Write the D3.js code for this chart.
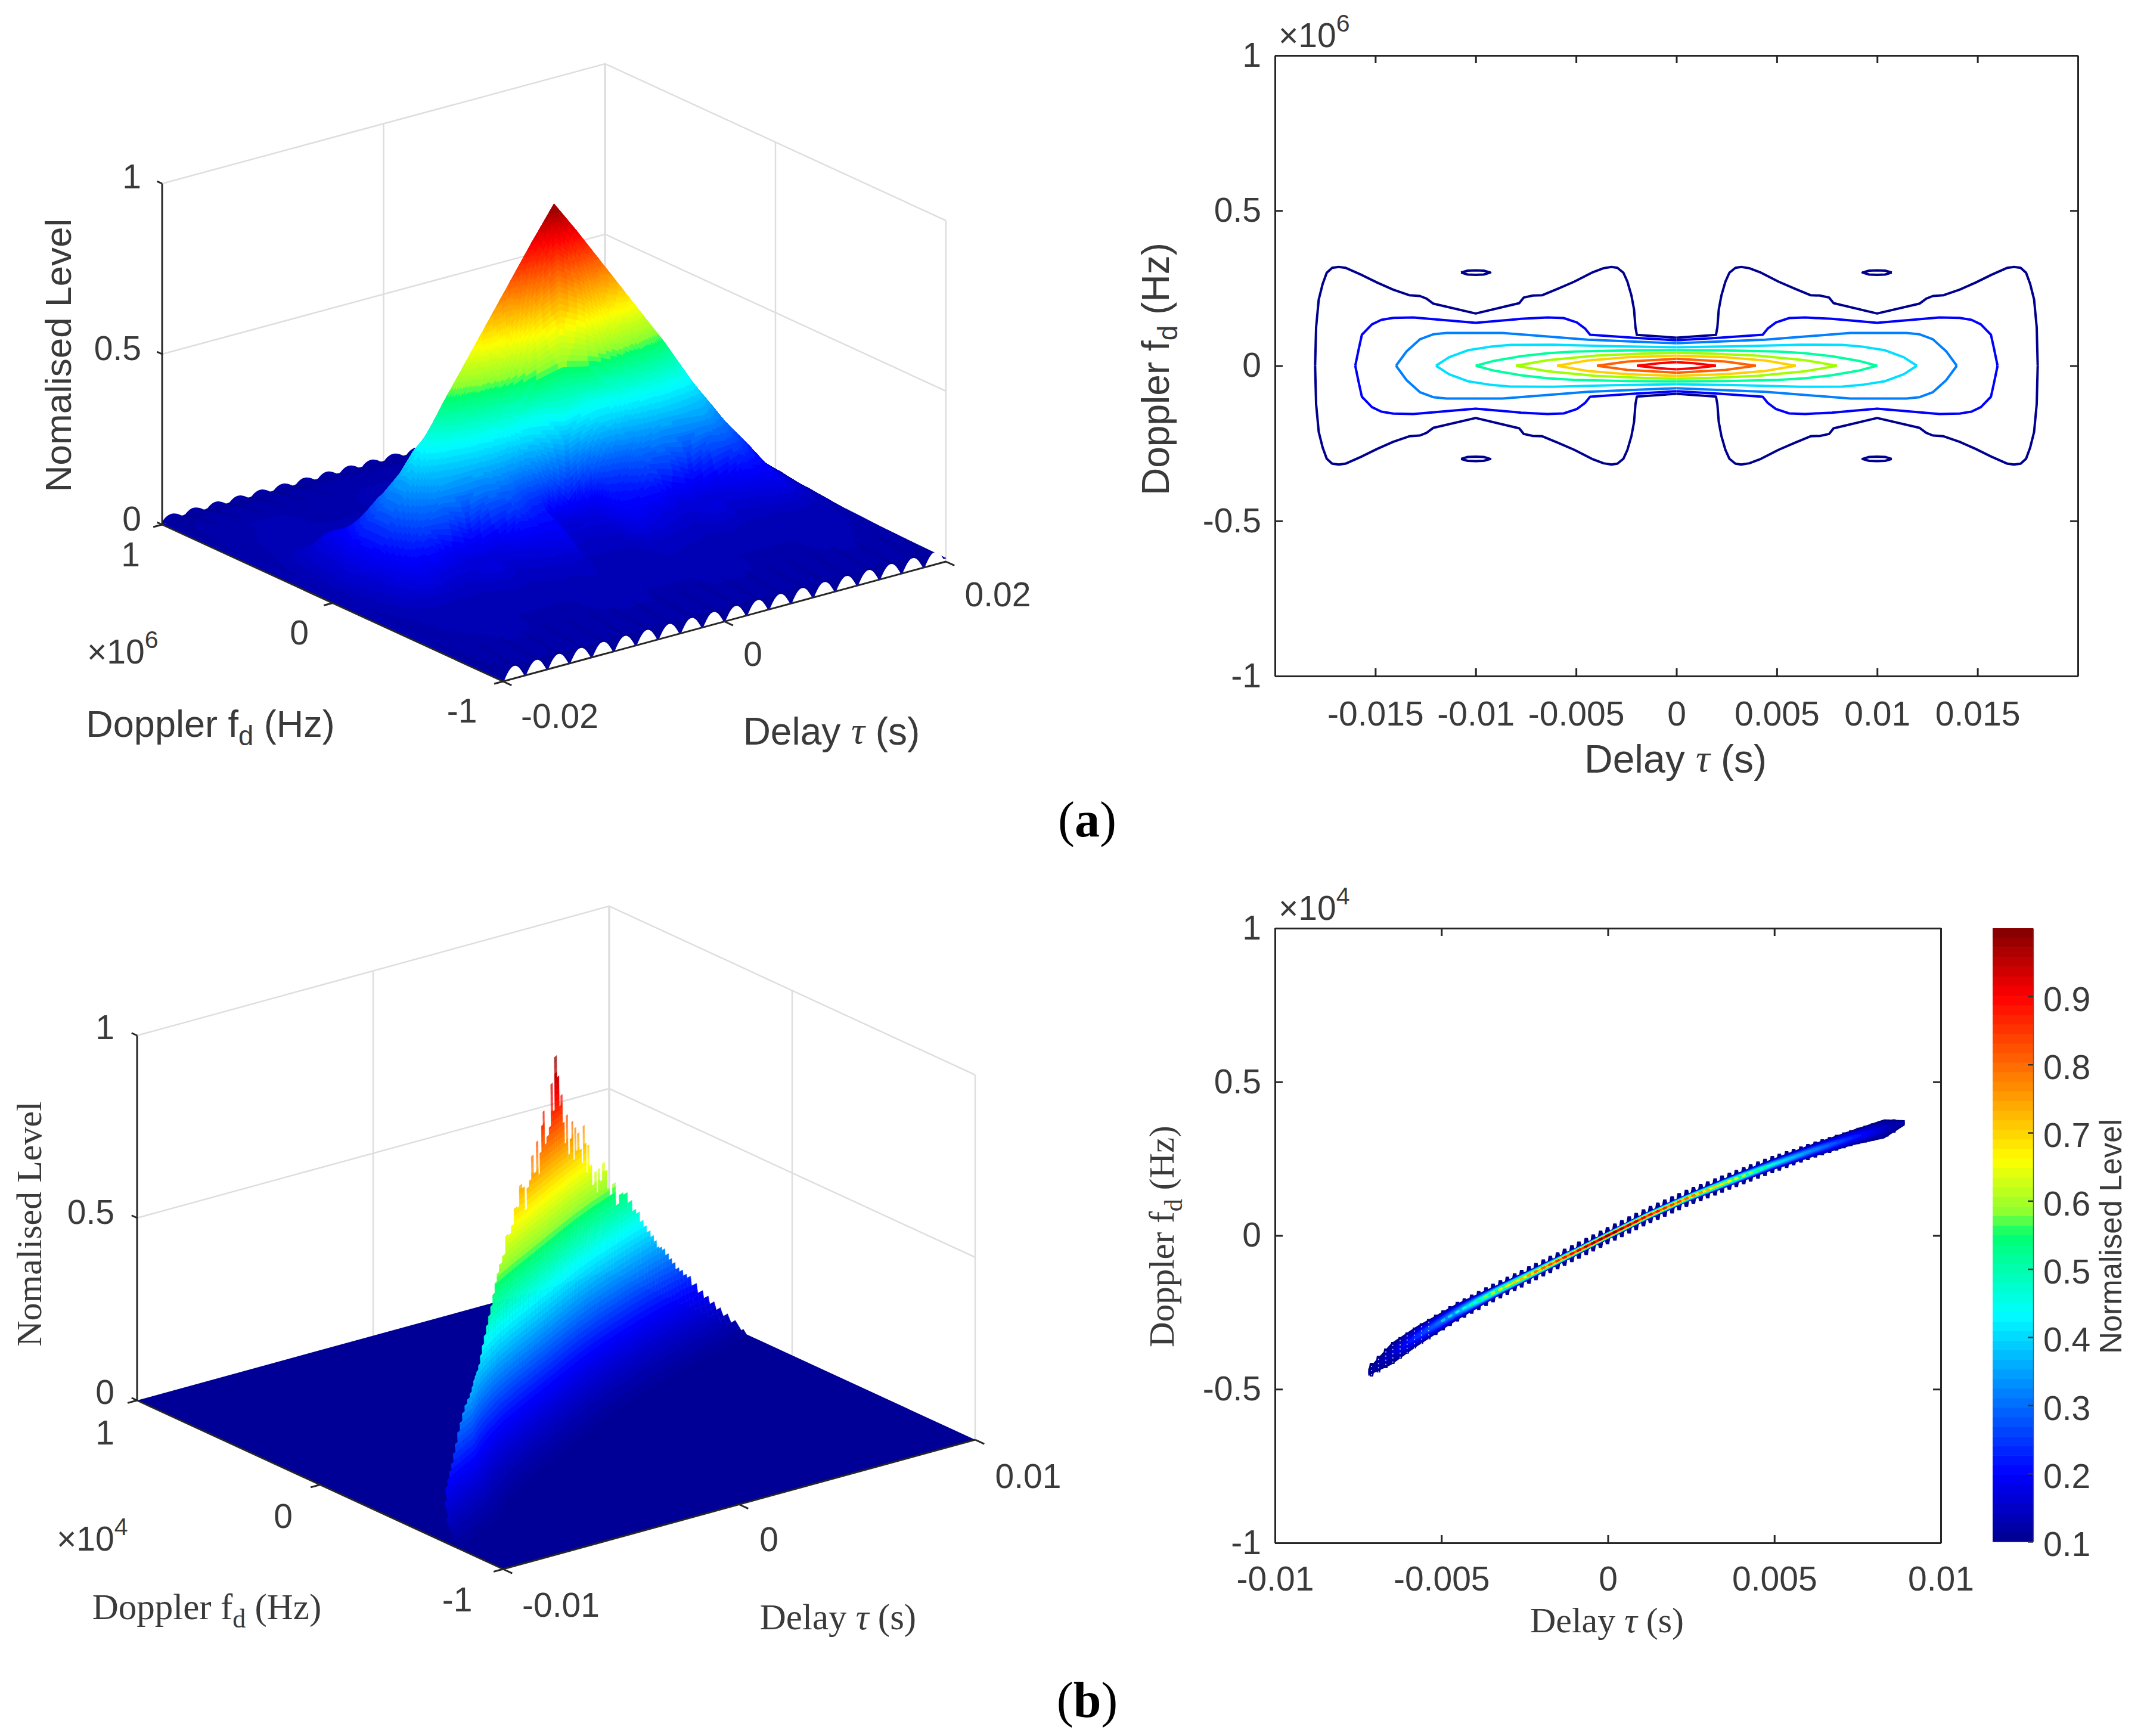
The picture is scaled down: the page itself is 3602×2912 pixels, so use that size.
<!DOCTYPE html>
<html>
<head>
<meta charset="utf-8">
<script src="https://cdn.jsdelivr.net/npm/d3@7"></script>
<style>
  body { margin: 0; background: #fff; }
  text { font-family: "Liberation Sans", Arial, sans-serif; fill: #3a3a3a; }
</style>
</head>
<body>
<svg id="fig" width="3602" height="2912" viewBox="0 0 3602 2912"></svg>
<script>
// ---- values ----

// (a) surface: quadrant of the ambiguity surface, |delay| in ms, |doppler| in 1e6 Hz
const surfDelayA = [0, 2, 3, 4, 6, 8, 10, 12, 14, 16, 18, 20];
const surfDopplerA = [0, .01, .02, .03, .04, .05, .06, .07, .08, .09, .1, .12, .15, .2, .25, .3, .35, .4, .5, .6, .8, 1];
const surfLevelA = [
  [.995, .90, .85, .80, .70, .60, .50, .39, .28, .18, .095, .04],
  [.913, .84, .81, .75, .65, .57, .485, .385, .28, .18, .095, .04],
  [.822, .77, .735, .70, .60, .54, .465, .38, .28, .18, .095, .04],
  [.727, .69, .655, .62, .55, .51, .445, .375, .28, .18, .095, .04],
  [.618, .59, .57, .55, .51, .48, .43, .37, .275, .18, .09, .04],
  [.507, .495, .49, .48, .47, .45, .41, .36, .27, .18, .09, .038],
  [.397, .41, .41, .41, .43, .42, .385, .345, .265, .18, .09, .038],
  [.318, .34, .35, .35, .39, .39, .365, .33, .26, .18, .09, .036],
  [.222, .27, .295, .30, .35, .365, .345, .32, .255, .175, .085, .036],
  [.104, .20, .225, .25, .315, .34, .325, .31, .25, .175, .085, .035],
  [.08, .10, .195, .195, .285, .31, .31, .30, .24, .17, .085, .035],
  [.07, .09, .175, .18, .25, .26, .255, .26, .23, .16, .08, .033],
  [.08, .085, .155, .16, .21, .20, .16, .20, .205, .15, .08, .031],
  [.06, .07, .14, .14, .15, .095, .09, .10, .15, .135, .075, .03],
  [.06, .06, .125, .125, .095, .08, .08, .08, .095, .12, .07, .027],
  [.05, .05, .105, .10, .08, .06, .10, .06, .07, .10, .06, .025],
  [.04, .04, .07, .07, .06, .05, .07, .05, .05, .06, .05, .022],
  [.04, .04, .05, .05, .05, .045, .05, .04, .04, .04, .04, .02],
  [.04, .04, .045, .045, .04, .035, .035, .035, .04, .04, .035, .018],
  [.035, .035, .04, .04, .035, .03, .03, .03, .035, .035, .03, .015],
  [.025, .025, .03, .03, .03, .03, .03, .03, .03, .03, .025, .012],
  [.01, .01, .01, .01, .01, .01, .01, .01, .01, .01, .01, .01]
];
// edge ripples of the surface (ms)
const scallopDelay = [-19, -17, -15, -13, -11, -9, -7, -5, -3, -1, 1, 3, 5, 7, 9, 11, 13, 15, 17, 19];

// (a) contours: one quadrant each, [delay ms, doppler 1e6 Hz], mirrored on both axes
const contourColors = ["#00008f", "#0000ff", "#007fff", "#00dfff", "#00ff9f", "#9fff00", "#ffcf00", "#ff6000", "#ff0000"];
const contourLines = [
  [[0, .0903], [-1.97, .0993], [-2.04, .1236], [-2.11, .1812], [-2.24, .2261], [-2.44, .2709], [-2.64, .2997], [-2.94, .3157], [-3.23, .3183], [-3.63, .3144], [-4.16, .3016], [-5.09, .2709], [-5.89, .2485], [-6.68, .2273], [-7.15, .2261], [-7.61, .2197], [-7.83, .2017], [-10, .1684], [-12.12, .2004], [-12.45, .2165], [-12.78, .2248], [-13.31, .2273], [-14.11, .2453], [-14.9, .2677], [-15.7, .2933], [-16.49, .3157], [-16.82, .3183], [-17.15, .3157], [-17.42, .2997], [-17.62, .2645], [-17.82, .2133], [-17.95, .1236], [-18, 0]],
  [[0, .082], [-2.17, .0903], [-4.3, .0999], [-4.56, .1204], [-4.96, .1396], [-5.62, .1537], [-6.42, .1556], [-7.74, .1511], [-10, .1383], [-13.11, .1556], [-14.11, .1543], [-14.7, .1479], [-15.17, .1332], [-15.67, .0999], [-15.83, .0532], [-16, 0]],
  [[0, .0724], [-4.43, .0839], [-8.67, .1057], [-11.45, .1057], [-12.12, .1012], [-12.78, .0852], [-13.44, .0467], [-13.97, 0]],
  [[0, .0596], [-3.23, .0628], [-6.15, .0679], [-8.27, .0672], [-9.33, .0608], [-10.39, .0499], [-11.32, .0275], [-11.98, 0]],
  [[0, .0506], [-2.44, .0493], [-5.09, .0455], [-6.42, .0403], [-7.74, .0307], [-9.07, .016], [-10, 0]],
  [[0, .0416], [-1.78, .039], [-4.03, .0327], [-6.42, .0179], [-8, 0]],
  [[0, .0327], [-2.44, .0275], [-4.43, .0167], [-5.95, 0]],
  [[0, .0224], [-2.44, .0134], [-3.96, 0]],
  [[0, .0115], [-.85, .0083], [-1.97, 0]]
];
// small closed 0.1 islands near delay -10 ms, doppler 0.3
const islandLine = [[-10.73, .3004], [-10.4, .3065], [-10, .3075], [-9.6, .3065], [-9.27, .3004], [-9.6, .294], [-10, .293], [-10.4, .294], [-10.73, .3004]];

// (b) crest of the noisy ridge, read stripe by stripe: delay in ms, level
const crestDelayB = [-10, -9.8, -9.6, -9.4, -9.2, -9, -8.8, -8.6, -8.4, -8.2, -8, -7.8, -7.6, -7.4, -7.2, -7, -6.8, -6.6, -6.4, -6.2, -6, -5.8, -5.6, -5.4, -5.2, -5, -4.8, -4.6, -4.42, -4.25, -3.93, -3.77, -3.53, -3.29, -3.08, -2.88, -2.69, -2.48, -2.32, -2.16, -1.95, -1.84, -1.63, -1.43, -1.35, -1.19, -1.08, -.95, -.87, -.66, -.5, -.35, -.22, -.06, .14, .23, .35, .47, .6, .71, .85, 1, 1.1, 1.2, 1.31, 1.4, 1.49, 1.64, 1.78, 1.86, 1.99, 2.07, 2.15, 2.3, 2.48, 2.63, 2.73, 2.81, 2.97, 3.12, 3.29, 3.41, 3.56, 3.78, 3.96, 4.21, 4.46, 4.74, 5.01, 5.2, 5.44, 5.62, 5.81, 6.06, 6.2, 6.37, 6.5, 6.67, 6.85, 7.04, 7.2, 7.41, 7.6, 7.8, 7.96, 8.2, 8.5, 8.75, 9, 9.25, 9.5, 9.75, 10];
const crestLevelB = [.02, .06, .095, .125, .14, .155, .17, .19, .21, .235, .255, .275, .29, .30, .31, .32, .33, .335, .34, .35, .37, .39, .41, .43, .45, .47, .495, .52, .54, .559, .575, .622, .618, .636, .676, .672, .727, .714, .649, .704, .719, .781, .729, .809, .716, .771, .841, .876, .783, .80, .82, .933, .855, .998, .938, .855, .881, .802, .742, .815, .704, .743, .786, .678, .763, .698, .743, .694, .654, .752, .701, .618, .691, .632, .574, .606, .546, .608, .572, .616, .59, .538, .516, .542, .479, .502, .495, .466, .436, .423, .395, .375, .356, .338, .32, .30, .295, .286, .268, .25, .235, .216, .205, .19, .18, .155, .13, .11, .09, .07, .05, .03, .01];
// how far the near flank has moved off the ridge at a given level (doppler 1e4 Hz)
const flankLevelB = [0, .03, .06, .1, .15, .2, .3, .5, 1];
const flankOffsetB = [.16, .11, .08, .055, .04, .028, .02, .012, 0];

// (b) contour ridge: centre line, peak level, half width at level 0.1, tooth half height
const ridgeDelay = [-10, -7.2, -6.5, -5.78, -4.55, -3.31, -2.08, -.84, 0, 1.21, 2.45, 3.68, 4.92, 6.15, 7.39, 8.3, 8.95, 10];
const ridgeDoppler = [-.6, -.445, -.385, -.331, -.2495, -.179, -.113, -.046, 0, .065, .125, .178, .23, .277, .32, .347, .368, .41];
const ridgeLevel = [.12, .12, .16, .25, .36, .58, .74, .87, .97, .85, .74, .6, .44, .34, .24, .16, .12, .12];
const ridgeHalfWidth = [.01, .01, .034, .032, .026, .018, .014, .012, .012, .012, .012, .015, .017, .02, .024, .03, .006, .006];
const ridgeToothHalf = [.02, .02, .036, .034, .032, .03, .028, .028, .028, .028, .028, .028, .028, .026, .026, .03, .012, .012];
const toothDelay = [-7.10, -6.89, -6.67, -6.46, -6.24, -6.03, -5.81, -5.60, -5.38, -5.17, -4.95, -4.74, -4.52, -4.31, -4.09, -3.88, -3.66, -3.45, -3.23, -3.02, -2.80, -2.59, -2.37, -2.16, -1.94, -1.73, -1.51, -1.30, -1.08, -.87, -.65, -.44, -.22, -.01, .21, .42, .64, .85, 1.07, 1.28, 1.50, 1.71, 1.93, 2.14, 2.36, 2.57, 2.79, 3.00, 3.22, 3.43, 3.65, 3.86, 4.08, 4.29, 4.51, 4.72, 4.94, 5.15, 5.37, 5.58, 5.80, 6.01, 6.23, 6.44, 6.66, 6.87, 7.09, 7.30, 7.52, 7.73, 7.95, 8.16, 8.38, 8.59];

// tick labels
const delayTicksA = [-.015, -.01, -.005, 0, .005, .01, .015];
const delayTicksB = [-.01, -.005, 0, .005, .01];
const dopplerTicks = [-1, -.5, 0, .5, 1];
const colorbarTicks = [.1, .2, .3, .4, .5, .6, .7, .8, .9];

// ---- colours ----
const jetRange = ["#00008f", "#0000ff", "#00ffff", "#00ff70", "#90ff30", "#ffff00", "#ff0000", "#800000"];
const surfColor = d3.scaleLinear([-.02, .13, .38, .50, .53, .63, .88, 1], jetRange).clamp(true);
const barColor = d3.scaleLinear([.1, .2, .435, .55, .585, .66, .9, 1], jetRange).clamp(true);
const quant = z => Math.floor(z * 64) / 64;

const svg = d3.select("#fig");
const tickFont = 57;

// ---- helpers ----
function makeProjection(box) {
  const u = d3.scaleLinear(box.delayDomain, [0, 1]);
  const v = d3.scaleLinear([-1, 1], [0, 1]);
  const h = d3.scaleLinear([0, 1], [0, box.height]);
  return (t, f, z) => [
    box.front[0] + u(t) * (box.right[0] - box.front[0]) + v(f) * (box.left[0] - box.front[0]),
    box.front[1] + u(t) * (box.right[1] - box.front[1]) + v(f) * (box.left[1] - box.front[1]) - h(z)
  ];
}

function addLabel(g, x, y, cfg) {
  const t = g.append("text").attr("x", x).attr("y", y)
    .attr("text-anchor", cfg.anchor || "middle")
    .attr("font-size", cfg.size)
    .attr("dominant-baseline", "middle");
  if (cfg.rotate) t.attr("transform", `rotate(${cfg.rotate} ${x} ${y})`);
  if (cfg.serif) t.style("font-family", '"Liberation Serif", serif');
  cfg.parts.forEach(p => {
    const s = t.append("tspan").text(p.text);
    if (p.sub) s.attr("dy", cfg.size * .3).attr("font-size", cfg.size * .72);
    if (p.sup) s.attr("dy", -cfg.size * .38).attr("font-size", cfg.size * .72);
    if (p.back) s.attr("dy", -cfg.size * .3);
    if (p.tau) s.style("font-family", '"Liberation Serif", serif').style("font-style", "italic");
  });
  return t;
}
const dopplerParts = [{text: "Doppler f"}, {text: "d", sub: true}, {text: " (Hz)", back: true}];
const delayParts = [{text: "Delay "}, {text: "τ", tau: true}, {text: " (s)"}];
const powerParts = e => [{text: "×10"}, {text: e, sup: true}];

// back walls of a 3-D box
function drawBox(g, P, box) {
  const [tLo, tHi] = box.delayDomain;
  const grid = g.append("g").attr("fill", "none").attr("stroke", "#dedede").attr("stroke-width", 2.5);
  const line = d3.line();
  [.5, 1].forEach(z => grid.append("path").attr("d", line([P(tLo, 1, z), P(tHi, 1, z), P(tHi, -1, z)])));
  grid.append("path").attr("d", line([P(tHi, 1, 0), P(tHi, 1, 1)])).attr("stroke-width", 3.5);
  grid.append("path").attr("d", line([P(0, 1, 0), P(0, 1, 1)]));
  grid.append("path").attr("d", line([P(tHi, 0, 0), P(tHi, 0, 1)]));
  grid.append("path").attr("d", line([P(tHi, -1, 0), P(tHi, -1, 1)]));
}

// front axes and their tick marks
function drawBoxFront(g, P, box) {
  const [tLo, tHi] = box.delayDomain;
  const line = d3.line();
  const ax = g.append("g").attr("fill", "none").attr("stroke", "#262626").attr("stroke-width", 3);
  ax.append("path").attr("d", line([P(tLo, 1, 0), P(tLo, 1, 1)]));
  ax.append("path").attr("d", line([P(tLo, 1, 0), P(tLo, -1, 0)]));
  ax.append("path").attr("d", line([P(tLo, -1, 0), P(tHi, -1, 0)]));
  const dt = (tHi - tLo) * .02, df = .05;
  [0, .5, 1].forEach(z => ax.append("path").attr("d", line([P(tLo, 1, z), P(tLo, 1 + df * .6, z)])));
  [-1, 0, 1].forEach(f => ax.append("path").attr("d", line([P(tLo, f, 0), P(tLo - dt, f, 0)])));
  [tLo, 0, tHi].forEach(t => ax.append("path").attr("d", line([P(t, -1, 0), P(t, -1 - df, 0)])));
}

// ---- (a) left: surface ----
const boxA = {delayDomain: [-.02, .02], front: [844, 1143], right: [1587, 942], left: [272, 880], height: 572};
const PA = makeProjection(boxA);
const gA = svg.append("g");
drawBox(gA, PA, boxA);

// ripples that stand proud of the far edge
const bumpLine = d3.line().curve(d3.curveBasis);
const bumpsBack = gA.append("g").attr("fill", surfColor(.01));
scallopDelay.forEach(d => {
  const pts = [[-1.05, 0], [-.95, .012], [-.6, .021], [-.2, .026], [.3, .022], [1, .006], [1, 0]]
    .map(([dd, z]) => PA((d + dd) / 1000, 1, z));
  bumpsBack.append("path").attr("d", bumpLine(pts) + "Z");
});

gA.append("path")
  .attr("d", d3.line()([PA(-.02, 1, 0), PA(-.02, -1, 0), PA(.02, -1, 0), PA(.02, 1, 0)]) + "Z")
  .attr("fill", surfColor(.025));

function shadeGrid(g, nRows, nCols, corner) {
  // far to near, run-merged so that the painter's order still holds
  let cur = null, buf = "";
  const flush = () => {
    if (buf) g.append("path").attr("d", buf).attr("fill", cur).attr("stroke", cur).attr("stroke-width", .9);
    buf = "";
  };
  for (let r = 0; r < nRows; r++) {
    for (let c = 0; c < nCols; c++) {
      const q = corner(r, c);
      const col = surfColor(quant(q.z));
      if (col !== cur) { flush(); cur = col; }
      buf += "M" + q.pts.map(p => p[0].toFixed(1) + "," + p[1].toFixed(1)).join("L") + "Z";
    }
  }
  flush();
}

const signedDelay = [...surfDelayA.slice(1).reverse().map(d => -d), ...surfDelayA].reverse(); // +20 .. -20
const signedDoppler = [...surfDopplerA.slice(1).reverse().map(d => -d), ...surfDopplerA].reverse(); // +1 .. -1
const subT = 10, subF = 6;
const levelAt = (iF, iT) => surfLevelA[surfDopplerA.indexOf(Math.abs(signedDoppler[iF]))][surfDelayA.indexOf(Math.abs(signedDelay[iT]))];
// corner lookup with shading-interp style subdivision of each table cell
function meshCorner(ri, ci) {
  const iF = Math.min(Math.floor(ri), signedDoppler.length - 2), iT = Math.min(Math.floor(ci), signedDelay.length - 2);
  const a = ri - iF, b = ci - iT;
  const z = d3.interpolate(
    d3.interpolate(levelAt(iF, iT), levelAt(iF, iT + 1))(b),
    d3.interpolate(levelAt(iF + 1, iT), levelAt(iF + 1, iT + 1))(b))(a);
  const t = d3.interpolate(signedDelay[iT], signedDelay[iT + 1])(b) / 1000;
  const f = d3.interpolate(signedDoppler[iF], signedDoppler[iF + 1])(a);
  return {z, p: PA(t, f, z)};
}
const gMesh = gA.append("g");
shadeGrid(gMesh, (signedDoppler.length - 1) * subF, (signedDelay.length - 1) * subT, (r, c) => {
  const q = [[r, c], [r, c + 1], [r + 1, c + 1], [r + 1, c]].map(([a, b]) => meshCorner(a / subF, b / subT));
  return {z: d3.mean(q, d => d.z), pts: q.map(d => d.p)};
});

// faint streaks running in from the edge ripples
const streaks = gA.append("g").attr("stroke", "#000068").attr("stroke-width", 3).attr("stroke-opacity", .28);
scallopDelay.forEach(d => {
  [[-1, -.72], [1, .8]].forEach(([f0, f1]) => {
    const a = PA((d + 1) / 1000, f0, .012), b = PA((d + 1) / 1000, f1, .03);
    if (d < 19 && (f0 < 0 || d < -7)) streaks.append("line").attr("x1", a[0]).attr("y1", a[1]).attr("x2", b[0]).attr("y2", b[1]);
  });
});

// white gaps under the near edge ripples
const bumpsFront = gA.append("g").attr("fill", "#fff");
scallopDelay.forEach(d => {
  const pts = [[-.9, 0], [-.9, .002], [-.55, .024], [-.2, .037], [.2, .037], [.55, .024], [.9, .002], [.9, 0]]
    .map(([dd, z]) => PA((d + dd) / 1000, -1, z));
  bumpsFront.append("path").attr("d", bumpLine(pts) + "Z");
});
drawBoxFront(gA, PA, boxA);

const tA = svg.append("g");
[["1", 237, 301], ["0.5", 237, 589], ["0", 237, 875], ["1", 235, 935]].forEach(([s, x, y]) =>
  addLabel(tA, x, y, {size: tickFont, anchor: "end", parts: [{text: s}]}));
addLabel(tA, 502, 1066, {size: tickFont, parts: [{text: "0"}]});
addLabel(tA, 775, 1197, {size: tickFont, parts: [{text: "-1"}]});
addLabel(tA, 939, 1206, {size: tickFont, parts: [{text: "-0.02"}]});
addLabel(tA, 1263, 1102, {size: tickFont, parts: [{text: "0"}]});
addLabel(tA, 1674, 1002, {size: tickFont, parts: [{text: "0.02"}]});
addLabel(tA, 146, 1098, {size: tickFont, anchor: "start", parts: powerParts("6")});
addLabel(tA, 103, 596, {size: 62, rotate: -90, parts: [{text: "Nomalised Level"}]});
addLabel(tA, 353, 1219, {size: 63, parts: dopplerParts});
addLabel(tA, 1395, 1232, {size: 64, parts: delayParts});

// ---- 2-D axes shared by the right-hand panels ----
function drawAxes(g, x, y, xTicks, padX) {
  const [x0, x1] = x.range(), [y1, y0] = y.range();
  const fmt = d => String(d);
  const call = (gen, tx, ty) => g.append("g").attr("transform", `translate(${tx},${ty})`).call(gen);
  const styleAxis = a => {
    a.selectAll("path.domain").attr("stroke", "#262626").attr("stroke-width", 3);
    a.selectAll(".tick line").attr("stroke", "#262626").attr("stroke-width", 3);
    a.selectAll("text").attr("font-size", tickFont).attr("fill", "#3a3a3a")
      .style("font-family", '"Liberation Sans", sans-serif');
  };
  styleAxis(call(d3.axisBottom(x).tickValues(xTicks).tickFormat(fmt).tickSize(-13).tickSizeOuter(0).tickPadding(padX), 0, y1));
  styleAxis(call(d3.axisLeft(y).tickValues(dopplerTicks).tickFormat(fmt).tickSize(-13).tickSizeOuter(0).tickPadding(23), x0, 0));
  styleAxis(call(d3.axisTop(x).tickValues(xTicks).tickFormat("").tickSize(-13).tickSizeOuter(0), 0, y0));
  styleAxis(call(d3.axisRight(y).tickValues(dopplerTicks).tickFormat("").tickSize(-13).tickSizeOuter(0), x1, 0));
}

// ---- (a) right: contours ----
const xA = d3.scaleLinear([-.02, .02], [2139, 3486]);
const yA = d3.scaleLinear([-1, 1], [1134, 93]);
const gC = svg.append("g");
const contourPath = d3.line().x(d => xA(d[0] / 1000)).y(d => yA(d[1]));
const mirrors = [[1, 1], [1, -1], [-1, 1], [-1, -1]];
const cLines = gC.append("g").attr("fill", "none").attr("stroke-width", 4).attr("stroke-linejoin", "round");
contourLines.forEach((pts, i) => {
  mirrors.forEach(([mx, my]) => {
    cLines.append("path")
      .attr("d", contourPath(pts.map(p => [p[0] * mx, p[1] * my])))
      .attr("stroke", contourColors[i]);
  });
});
mirrors.forEach(([mx, my]) => {
  cLines.append("path").attr("d", contourPath(islandLine.map(p => [p[0] * mx, p[1] * my]))).attr("stroke", contourColors[0]);
});
drawAxes(gC, xA, yA, delayTicksA, 43);
addLabel(gC, 2145, 64, {size: tickFont, anchor: "start", parts: powerParts("6")});
addLabel(gC, 1944, 619, {size: 64, rotate: -90, parts: dopplerParts});
addLabel(gC, 2811, 1279, {size: 66, parts: delayParts});

// ---- (b) left: noisy ridge ----
const boxB = {delayDomain: [-.01, .01], front: [844, 2632], right: [1636, 2415], left: [230, 2349], height: 612};
const PB = makeProjection(boxB);
const gB = svg.append("g");
drawBox(gB, PB, boxB);
gB.append("path")
  .attr("d", d3.line()([PB(-.01, 1, 0), PB(-.01, -1, 0), PB(.01, -1, 0), PB(.01, 1, 0)]) + "Z")
  .attr("fill", surfColor(-.01));

const ridgeFd = d3.scaleLinear(ridgeDelay, ridgeDoppler);
const flankOff = d3.scaleLinear(flankLevelB, flankOffsetB).clamp(true);
const gWall = gB.append("g");
const mid = (a, b) => (a + b) / 2;
const band = 1 / 64;
d3.range(crestDelayB.length - 1, -1, -1).forEach(i => {
  const t0 = i > 0 ? mid(crestDelayB[i - 1], crestDelayB[i]) : crestDelayB[i];
  const t1 = i < crestDelayB.length - 1 ? mid(crestDelayB[i], crestDelayB[i + 1]) : crestDelayB[i];
  const crest = crestLevelB[i];
  const neighbour = Math.max(i > 0 ? crestLevelB[i - 1] : 0, i < crestDelayB.length - 1 ? crestLevelB[i + 1] : 0);
  const spikeFrom = Math.min(crest, neighbour);
  const lev0 = Math.floor(crest / band);
  for (let k = lev0; k >= 0; k--) {
    // same level sits at the same offset in every stripe, so the colour bands line up
    const top = Math.min(crest, (k + 1) * band), bot = k * band;
    const at = (ms, z) => PB(ms / 1000, ridgeFd(ms) - flankOff(z), z);
    const pts = [at(t0, top), at(t1, top), at(t1, bot), at(t0, bot)];
    const col = surfColor(bot);
    gWall.append("path").attr("d", d3.line()(pts) + "Z").attr("fill", col).attr("stroke", col).attr("stroke-width", .6)
      .attr("opacity", bot > spikeFrom ? .75 : 1);
  }
});
drawBoxFront(gB, PB, boxB);

const tB = svg.append("g");
addLabel(tB, 192, 1728, {size: tickFont, anchor: "end", parts: [{text: "1"}]});
addLabel(tB, 192, 2038, {size: tickFont, anchor: "end", parts: [{text: "0.5"}]});
addLabel(tB, 192, 2340, {size: tickFont, anchor: "end", parts: [{text: "0"}]});
addLabel(tB, 192, 2408, {size: tickFont, anchor: "end", parts: [{text: "1"}]});
addLabel(tB, 475, 2548, {size: tickFont, parts: [{text: "0"}]});
addLabel(tB, 767, 2688, {size: tickFont, parts: [{text: "-1"}]});
addLabel(tB, 941, 2697, {size: tickFont, parts: [{text: "-0.01"}]});
addLabel(tB, 1290, 2587, {size: tickFont, parts: [{text: "0"}]});
addLabel(tB, 1725, 2481, {size: tickFont, parts: [{text: "0.01"}]});
addLabel(tB, 95, 2586, {size: tickFont, anchor: "start", parts: powerParts("4")});
addLabel(tB, 55, 2053, {size: 60, serif: true, rotate: -90, parts: [{text: "Nomalised Level"}]});
addLabel(tB, 347, 2702, {size: 61, serif: true, parts: dopplerParts});
addLabel(tB, 1406, 2719, {size: 61, serif: true, parts: delayParts});

// ---- (b) right: contour of the ridge ----
const xB = d3.scaleLinear([-.01, .01], [2139, 3256]);
const yB = d3.scaleLinear([-1, 1], [2588, 1557]);
const gD = svg.append("g");
const peak = d3.scaleLinear(ridgeDelay, ridgeLevel);
const halfW = d3.scaleLinear(ridgeDelay, ridgeHalfWidth);
const toothH = d3.scaleLinear(ridgeDelay, ridgeToothHalf);
const bandFrom = -7.2, bandTo = 8.95;

// navy teeth either side of the band
const teeth = gD.append("g").attr("fill", barColor(.1));
const toothPath = d3.line().x(d => xB(d[0] / 1000)).y(d => yB(d[1]));
toothDelay.forEach(d => {
  const a = d - .1, b = d + .1, h = toothH(d);
  const c = ridgeFd(d);
  teeth.append("path").attr("d", toothPath([[a, ridgeFd(a)], [d - .05, c + h], [d + .05, c + h], [b, ridgeFd(b)], [d + .05, c - h], [d - .05, c - h]]) + "Z");
});

// stacked filled levels along the ridge
const sampleT = d3.range(bandFrom, bandTo + .001, .04);
const levelBand = d3.area().defined(d => d.on).x(d => xB(d.t / 1000)).y0(d => yB(d.lo)).y1(d => yB(d.hi));
d3.range(.1, .99, .02).forEach(L => {
  const pts = sampleT.map(t => {
    const p = peak(t), on = p >= L;
    const w = on ? halfW(t) * Math.pow(Math.max(0, 1 - (L - .1) / Math.max(.02, p - .1)), .75) + .0012 : 0;
    const c = ridgeFd(t);
    return {t, on, lo: c - w, hi: c + w};
  });
  gD.append("path").attr("d", levelBand(pts)).attr("fill", barColor(L));
});

// dashes of the sampled peak along the centre of the band
const dashes = gD.append("g").attr("stroke-width", 4);
toothDelay.filter(d => Math.abs(d) < 5).forEach(d => {
  const a = d - .06, b = d + .06;
  dashes.append("line")
    .attr("x1", xB(a / 1000)).attr("y1", yB(ridgeFd(a))).attr("x2", xB(b / 1000)).attr("y2", yB(ridgeFd(b)))
    .attr("stroke", barColor(peak(d) + .06));
});
// holes in the sparse low-level tail
const holes = gD.append("g").attr("stroke", "#fff").attr("stroke-width", 1.6).attr("stroke-dasharray", "2 5").attr("stroke-opacity", .8);
toothDelay.filter(d => d < -5.2).forEach(d => {
  holes.append("line").attr("x1", xB(d / 1000)).attr("x2", xB(d / 1000))
    .attr("y1", yB(ridgeFd(d) + toothH(d) + .004)).attr("y2", yB(ridgeFd(d) - toothH(d) - .004));
});

drawAxes(gD, xB, yB, delayTicksB, 40);
addLabel(gD, 2145, 1528, {size: tickFont, anchor: "start", parts: powerParts("4")});
addLabel(gD, 1955, 2074, {size: 59, serif: true, rotate: -90, parts: dopplerParts});
addLabel(gD, 2696, 2724, {size: 60, serif: true, parts: delayParts});

// colour bar
const cbar = d3.scaleLinear([.1, 1], [2586, 1557]);
const gBar = svg.append("g");
const barSteps = d3.range(64).map(i => .1 + i * .9 / 64);
gBar.selectAll("rect").data(barSteps).join("rect")
  .attr("x", 3343).attr("width", 68)
  .attr("y", d => cbar(d + .9 / 64))
  .attr("height", d => cbar(d) - cbar(d + .9 / 64) + .6)
  .attr("fill", d => barColor(d + .45 / 64));
const barAxis = gBar.append("g").attr("transform", "translate(3411,0)")
  .call(d3.axisRight(cbar).tickValues(colorbarTicks).tickFormat(d3.format(".1f")).tickSize(-9).tickSizeOuter(0).tickPadding(17));
barAxis.selectAll("path.domain").attr("stroke", "#555").attr("stroke-width", 1.5);
barAxis.selectAll(".tick line").attr("stroke", "#333").attr("stroke-width", 2.5);
barAxis.selectAll("text").attr("font-size", tickFont).attr("fill", "#3a3a3a").attr("dy", "0.42em")
  .style("font-family", '"Liberation Sans", sans-serif');
addLabel(gBar, 3546, 2074, {size: 51, rotate: -90, parts: [{text: "Normalised Level"}]});

// ---- sub-figure captions ----
[["a", 1384], ["b", 2861]].forEach(([s, y]) => {
  const t = svg.append("text").attr("x", 1824).attr("y", y).attr("text-anchor", "middle")
    .attr("dominant-baseline", "middle").attr("font-size", 84)
    .style("font-family", '"Liberation Serif", serif').style("fill", "#000");
  t.append("tspan").text("(");
  t.append("tspan").attr("font-weight", "bold").text(s);
  t.append("tspan").text(")");
});
</script>
</body>
</html>
